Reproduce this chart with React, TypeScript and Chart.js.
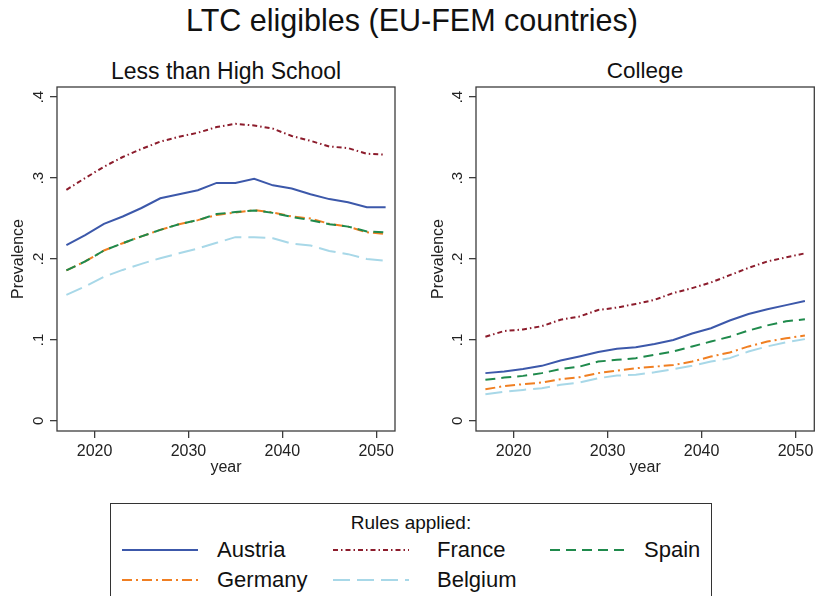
import React, { useEffect, useRef } from "react";
import { Chart, registerables } from "chart.js";

Chart.register(...registerables);

// ---------------- data ----------------
const years = [2017, 2019, 2021, 2023, 2025, 2027, 2029, 2031, 2033, 2035, 2037, 2039, 2041, 2043, 2045, 2047, 2049, 2051];

// Less than High School
const lhsAustria = [0.217, 0.2295, 0.2435, 0.2525, 0.263, 0.275, 0.28, 0.285, 0.294, 0.294, 0.299, 0.291, 0.287, 0.28, 0.274, 0.27, 0.264, 0.264];
const lhsFrance = [0.2855, 0.3, 0.314, 0.326, 0.336, 0.345, 0.351, 0.356, 0.363, 0.367, 0.365, 0.361, 0.352, 0.346, 0.339, 0.337, 0.33, 0.329];
const lhsSpain = [0.186, 0.197, 0.2105, 0.2195, 0.228, 0.236, 0.243, 0.248, 0.2555, 0.258, 0.26, 0.257, 0.252, 0.248, 0.243, 0.24, 0.234, 0.233];
const lhsGermany = [0.186, 0.197, 0.2105, 0.2195, 0.228, 0.236, 0.243, 0.248, 0.2545, 0.2575, 0.2605, 0.2575, 0.2525, 0.25, 0.2435, 0.24, 0.233, 0.231];
const lhsBelgium = [0.1557, 0.166, 0.178, 0.1865, 0.194, 0.201, 0.207, 0.213, 0.22, 0.227, 0.227, 0.2257, 0.219, 0.2167, 0.21, 0.206, 0.2, 0.1977];

// College
const colAustria = [0.059, 0.061, 0.064, 0.068, 0.0745, 0.0795, 0.085, 0.089, 0.091, 0.095, 0.1, 0.108, 0.1145, 0.124, 0.132, 0.138, 0.143, 0.148];
const colFrance = [0.104, 0.111, 0.113, 0.117, 0.125, 0.129, 0.137, 0.14, 0.1445, 0.1495, 0.158, 0.164, 0.171, 0.18, 0.189, 0.197, 0.202, 0.207];
const colSpain = [0.0507, 0.0535, 0.0556, 0.059, 0.064, 0.067, 0.0733, 0.0754, 0.0775, 0.0816, 0.0857, 0.092, 0.098, 0.104, 0.1116, 0.118, 0.123, 0.1256];
const colGermany = [0.039, 0.043, 0.0453, 0.0474, 0.0515, 0.054, 0.059, 0.062, 0.065, 0.067, 0.069, 0.0733, 0.0795, 0.0845, 0.092, 0.098, 0.102, 0.1055];
const colBelgium = [0.033, 0.036, 0.0383, 0.0404, 0.0445, 0.0474, 0.0527, 0.056, 0.057, 0.06, 0.064, 0.068, 0.0733, 0.0775, 0.0857, 0.092, 0.097, 0.101];

const countries = ["Austria", "France", "Spain", "Germany", "Belgium"];
const yTickValues = [0, 0.1, 0.2, 0.3, 0.4];
const yTickLabels = ["0", ".1", ".2", ".3", ".4"];
const xTickValues = [2020, 2030, 2040, 2050];

const chartTitle = "LTC eligibles (EU-FEM countries)";
const panelTitles = ["Less than High School", "College"];
const legendTitle = "Rules applied:";

// ---------------- styles ----------------
const FONT = "'Liberation Sans', Arial, Helvetica, sans-serif";
const seriesStyle: Record<string, { color: string; dash: number[] }> = {
  Austria: { color: "#3c58aa", dash: [] },
  France: { color: "#8c1c2c", dash: [5, 3, 1.5, 3] },
  Spain: { color: "#1f8a4c", dash: [10, 6] },
  Germany: { color: "#f07f22", dash: [10, 4, 2, 4] },
  Belgium: { color: "#a8d8e8", dash: [17, 7] },
};
const FRAME = "#3c3c3c";

function buildDatasets(series: number[][]) {
  return countries.map((name, i) => ({
    label: name,
    data: years.map((yr, j) => ({ x: yr, y: series[i][j] })),
    borderColor: seriesStyle[name].color,
    borderDash: seriesStyle[name].dash,
    borderWidth: 2,
    pointRadius: 0,
    tension: 0,
    fill: false,
  }));
}

const framePlugin = {
  id: "stataFrame",
  beforeDatasetsDraw(chart: any) {
    const { ctx, chartArea } = chart;
    const { left, top, right, bottom } = chartArea;
    ctx.save();
    ctx.strokeStyle = FRAME;
    ctx.lineWidth = 1.3;
    ctx.strokeRect(left, top, right - left, bottom - top);
    const ys = chart.scales.y;
    ctx.font = `15px ${FONT}`;
    ctx.fillStyle = "#222";
    ctx.textAlign = "center";
    ctx.textBaseline = "middle";
    yTickValues.forEach((v, i) => {
      const py = ys.getPixelForValue(v);
      ctx.save();
      ctx.translate(left - 18, py);
      ctx.rotate(-Math.PI / 2);
      ctx.fillText(yTickLabels[i], 0, 0);
      ctx.restore();
    });
    ctx.restore();
  },
};

type PanelProps = {
  series: number[][];
  left: number;
  padLeft: number;
  padRight: number;
  yAxisWidth: number;
};

const CANVAS_W = 409;
const CANVAS_H = 410;
const CANVAS_TOP = 80;

function Panel({ series, left, padLeft, padRight, yAxisWidth }: PanelProps) {
  const ref = useRef<HTMLCanvasElement | null>(null);
  useEffect(() => {
    if (!ref.current) return;
    const chart = new Chart(ref.current, {
      type: "line",
      data: { datasets: buildDatasets(series) as any },
      options: {
        animation: false,
        responsive: false,
        maintainAspectRatio: false,
        layout: { padding: { left: padLeft, right: padRight, top: 7, bottom: 13 } },
        plugins: { legend: { display: false }, tooltip: { enabled: false }, title: { display: false } },
        scales: {
          x: {
            type: "linear",
            min: 2016,
            max: 2052,
            afterBuildTicks: (scale: any) => {
              scale.ticks = xTickValues.map((v) => ({ value: v }));
            },
            afterFit: (scale: any) => {
              scale.height = 46;
            },
            ticks: {
              callback: (v: any) => String(v),
              font: { family: FONT, size: 16 },
              color: "#222",
              padding: 4,
              maxRotation: 0,
              minRotation: 0,
            },
            grid: {
              display: true,
              drawOnChartArea: false,
              drawTicks: true,
              tickLength: 7,
              color: FRAME,
              lineWidth: 1.3,
            },
            border: { display: false },
            title: {
              display: true,
              text: "year",
              font: { family: FONT, size: 16, lineHeight: 1.2 },
              color: "#222",
              padding: 0,
            },
          },
          y: {
            type: "linear",
            min: -0.0125,
            max: 0.4125,
            afterBuildTicks: (scale: any) => {
              scale.ticks = yTickValues.map((v) => ({ value: v }));
            },
            afterFit: (scale: any) => {
              scale.width = yAxisWidth;
            },
            ticks: { display: false },
            grid: {
              display: true,
              drawOnChartArea: false,
              drawTicks: true,
              tickLength: 7,
              color: FRAME,
              lineWidth: 1.3,
            },
            border: { display: false },
            title: {
              display: true,
              text: "Prevalence",
              font: { family: FONT, size: 16, lineHeight: 1.2 },
              color: "#222",
              padding: 0,
            },
          },
        },
      },
      plugins: [framePlugin],
    });
    return () => chart.destroy();
  }, [series, padLeft, padRight, yAxisWidth]);
  return (
    <canvas
      ref={ref}
      width={CANVAS_W}
      height={CANVAS_H}
      style={{ position: "absolute", left, top: CANVAS_TOP, width: CANVAS_W, height: CANVAS_H }}
    />
  );
}

function LegendSample({ name }: { name: string }) {
  const st = seriesStyle[name];
  return (
    <svg width={76} height={10} style={{ display: "block" }}>
      <line x1={0} y1={5} x2={76} y2={5} stroke={st.color} strokeWidth={2} strokeDasharray={st.dash.length ? st.dash.join(" ") : undefined} />
    </svg>
  );
}

const legendLayout: { name: string; lineX: number; textX: number; y: number }[] = [
  { name: "Austria", lineX: 122, textX: 217, y: 550 },
  { name: "France", lineX: 333, textX: 437, y: 550 },
  { name: "Spain", lineX: 550, textX: 644, y: 550 },
  { name: "Germany", lineX: 122, textX: 217, y: 580 },
  { name: "Belgium", lineX: 333, textX: 437, y: 580 },
];

export default function App() {
  useEffect(() => {
    document.body.style.margin = "0";
  }, []);
  const lhs = [lhsAustria, lhsFrance, lhsSpain, lhsGermany, lhsBelgium];
  const col = [colAustria, colFrance, colSpain, colGermany, colBelgium];
  return (
    <div style={{ position: "fixed", left: 0, top: 0, width: 818, height: 596, overflow: "hidden", background: "#fff", fontFamily: FONT, color: "#111" }}>
      <div style={{ position: "absolute", left: 0, width: 824, top: 5, textAlign: "center", fontSize: 30.5, lineHeight: "30px", whiteSpace: "nowrap" }}>
        {chartTitle}
      </div>
      <div style={{ position: "absolute", left: 26, width: 400, top: 60, textAlign: "center", fontSize: 23, lineHeight: "22px", whiteSpace: "nowrap" }}>
        {panelTitles[0]}
      </div>
      <div style={{ position: "absolute", left: 445, width: 400, top: 60, textAlign: "center", fontSize: 22.5, lineHeight: "22px", whiteSpace: "nowrap" }}>
        {panelTitles[1]}
      </div>
      <Panel series={lhs} left={0} padLeft={8.7} padRight={14} yAxisWidth={48.3} />
      <Panel series={col} left={409} padLeft={19.7} padRight={3.7} yAxisWidth={47.3} />
      <div style={{ position: "absolute", left: 110, top: 503, width: 602, height: 140, border: "1.5px solid #333", boxSizing: "border-box" }} />
      <div style={{ position: "absolute", left: 110, width: 602, top: 513, textAlign: "center", fontSize: 19, lineHeight: "20px" }}>
        {legendTitle}
      </div>
      {legendLayout.map((it) => (
        <React.Fragment key={it.name}>
          <div style={{ position: "absolute", left: it.lineX, top: it.y - 5 }}>
            <LegendSample name={it.name} />
          </div>
          <div style={{ position: "absolute", left: it.textX, top: it.y - 12, fontSize: 22, lineHeight: "24px", whiteSpace: "nowrap" }}>
            {it.name}
          </div>
        </React.Fragment>
      ))}
    </div>
  );
}
